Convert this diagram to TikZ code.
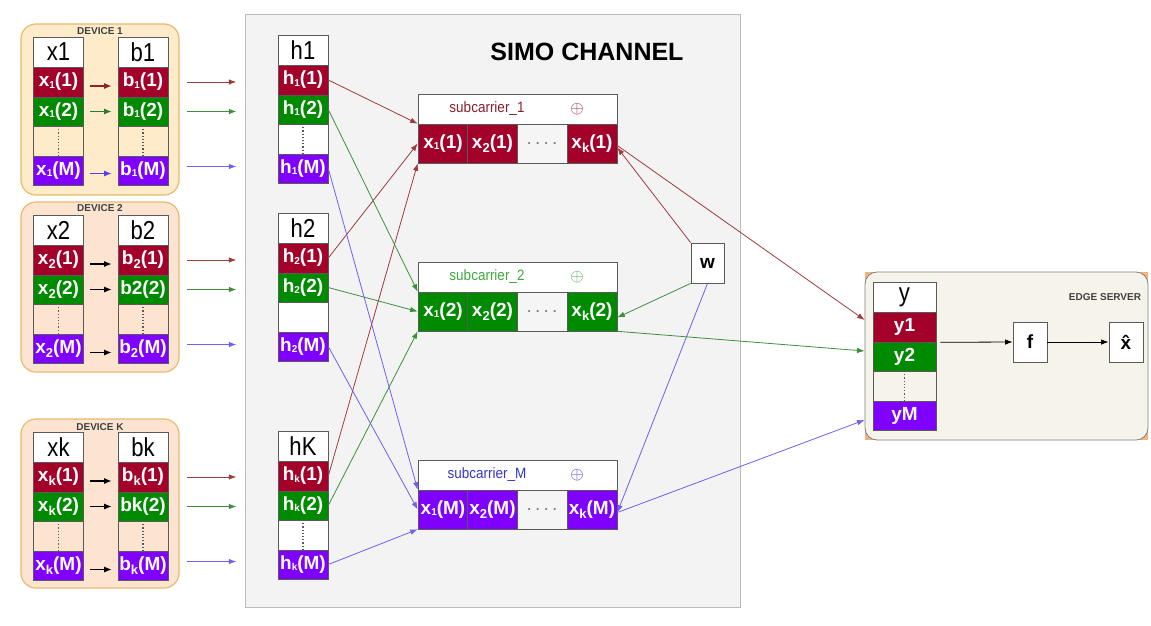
\documentclass[tikz,border=0pt]{standalone}
\usepackage{fontspec}
\setmainfont{Liberation Sans}
\usetikzlibrary{arrows.meta}

\definecolor{cred}{HTML}{A3002A}
\definecolor{cgreen}{HTML}{008A00}
\definecolor{cpurple}{HTML}{7F00FF}
\definecolor{lred}{HTML}{9E3B3B}
\definecolor{lgreen}{HTML}{3E8E3E}
\definecolor{lpurple}{HTML}{7060F0}
\definecolor{ared}{HTML}{8E2323}
\definecolor{agreen}{HTML}{2D7A2D}
\definecolor{apurple}{HTML}{5B3DF5}
\definecolor{devA}{HTML}{FDEBC9}
\definecolor{devB}{HTML}{FCE4D0}
\definecolor{devline}{HTML}{E9B96E}
\definecolor{chanfill}{HTML}{F3F3F3}
\definecolor{chanline}{HTML}{BBBBBB}
\definecolor{srvfill}{HTML}{F6F3EA}
\definecolor{srvcorner}{HTML}{F2B27E}
\definecolor{cellline}{HTML}{5A5A5A}
\definecolor{titlegray}{HTML}{404040}
\definecolor{sred}{HTML}{8A1F2A}
\definecolor{sgreen}{HTML}{3DAA3D}
\definecolor{sblue}{HTML}{3535CC}

% subscripts: small (index 1) and large (other indices)
\newcommand\subs[1]{\raisebox{-0.08em}{\fontsize{10}{10}\selectfont #1}}
\newcommand\subl[1]{\raisebox{-0.22em}{\fontsize{13}{13}\selectfont #1}}
% tall, slightly condensed header lettering
\newcommand\hdrtext[1]{\scalebox{0.85}[1]{#1}}
\def\cellw{50pt}

% one stacked column: header, three coloured rows and a filler row
\newcommand\stackcol[8]{%
  \node[hdr] (#1h) at (#2,#3+15) {\hdrtext{#4}};
  \node[rcell] (#1a) at (#2,#3+45) {#5};
  \node[gcell] (#1b) at (#2,#3+74.5) {#6};
  \node[#8] (#1c) at (#2,#3+104) {};
  \node[pcell] (#1d) at (#2,#3+133.5) {#7};
}

% one subcarrier block
\newcommand\subrow[6]{%
  \node[shdr] (#1h) at (517.5,#2+15) {};
  \node[slabel, text=#3] (#1l) at (487,#2+15) {\scalebox{0.9}[1]{#4}};
  \node[slabel, text=#3, font=\fontsize{17}{17}\selectfont] (#1o) at (577,#2+15) {$\oplus$};
  \node[#5, scell] (#1a) at (443,#2+49.5) {x\subs{1}(#6)};
  \node[#5, scell] (#1b) at (492.5,#2+49.5) {x\subl{2}(#6)};
  \node[scell, fill=white!96!black, text=gray] (#1c) at (542,#2+49.5) {\normalfont.\,.\,.\,.};
  \node[#5, scell] (#1k) at (592,#2+49.5) {x\subl{k}(#6)};
}

\begin{document}
\begin{tikzpicture}[x=1pt,y=-1pt,
  cell/.style={draw=cellline, line width=0.6pt, minimum width=\cellw,
    minimum height=30pt, inner sep=0pt, text=white,
    font=\fontsize{19}{19}\selectfont\bfseries},
  hdr/.style={cell, fill=white, text=black, font=\fontsize{26}{26}\selectfont},
  rcell/.style={cell, fill=cred},
  gcell/.style={cell, fill=cgreen, minimum height=29pt},
  pcell/.style={cell, fill=cpurple, minimum height=29pt},
  dcell/.style={cell, path picture={\draw[dotted, line width=1.2pt]
      (path picture bounding box.north) -- (path picture bounding box.south);}},
  wdcell/.style={dcell, fill=white},
  wcell/.style={cell, fill=white},
  shdr/.style={draw=cellline, line width=0.6pt, fill=white,
    minimum width=199pt, minimum height=30pt, inner sep=0pt},
  slabel/.style={inner sep=0pt, font=\fontsize{15}{15}\selectfont},
  scell/.style={cell, minimum height=39pt},
  devbox/.style={draw=devline, line width=1.2pt, rounded corners=15pt, inner sep=0pt},
  devtitle/.style={inner sep=0pt, text=titlegray, font=\fontsize{10}{10}\selectfont\bfseries},
  box/.style={draw=cellline, line width=0.8pt, fill=white, inner sep=0pt,
    minimum width=34pt, minimum height=40pt, font=\fontsize{19}{19}\selectfont\bfseries},
  link/.style={line width=0.8pt, -{Latex[length=7.5pt,width=5.5pt]}},
  darr/.style={line width=1.3pt, -{Latex[length=7.5pt,width=6pt]}},
]
\useasboundingbox (0,0) rectangle (1151,625);

% ---------- devices ----------
\node[devbox, fill=devA, minimum width=158pt, minimum height=171pt] (dev1) at (100,109.5) {};
\node[devbox, fill=devB, minimum width=158pt, minimum height=170pt] (dev2) at (100,287) {};
\node[devbox, fill=devB, minimum width=158pt, minimum height=169pt] (devK) at (100,503.5) {};
\node[devtitle] (dev1t) at (100,31) {DEVICE 1};
\node[devtitle] (dev2t) at (100,208) {DEVICE 2};
\node[devtitle] (devKt) at (100,427) {DEVICE K};

\stackcol{xa}{58.5}{37}{x1}{x\subs{1}(1)}{x\subs{1}(2)}{x\subs{1}(M)}{dcell}
\stackcol{ba}{143}{37}{b1}{b\subs{1}(1)}{b\subs{1}(2)}{b\subs{1}(M)}{dcell}
\stackcol{xb}{58.5}{215}{x2}{x\subl{2}(1)}{x\subl{2}(2)}{x\subl{2}(M)}{dcell}
\stackcol{bb}{143}{215}{b2}{b\subl{2}(1)}{b2(2)}{b\subl{2}(M)}{dcell}
\stackcol{xk}{58.5}{432}{xk}{x\subl{k}(1)}{x\subl{k}(2)}{x\subl{k}(M)}{dcell}
\stackcol{bk}{143}{432}{bk}{b\subl{k}(1)}{bk(2)}{b\subl{k}(M)}{dcell}

% inside each device
\draw[darr, ared]    ([xshift=6pt,yshift=-4pt]xaa.east) -- ([xshift=-6pt,yshift=-4pt]baa.west);
\draw[darr, agreen]  ([xshift=6pt]xab.east) -- ([xshift=-6pt]bab.west);
\draw[darr, apurple] ([xshift=6pt,yshift=-3pt]xad.east) -- ([xshift=-6pt,yshift=-3pt]bad.west);
\foreach \d in {b,k}{
  \draw[darr, black] ([xshift=6pt,yshift=-4pt]x\d a.east) -- ([xshift=-6pt,yshift=-4pt]b\d a.west);
  \draw[darr, black] ([xshift=6pt]x\d b.east) -- ([xshift=-6pt]b\d b.west);
  \draw[darr, black] ([xshift=6pt,yshift=-4pt]x\d d.east) -- ([xshift=-6pt,yshift=-4pt]b\d d.west);
}

% device outputs
\foreach \d in {a,b,k}{
  \draw[link, lred]    ([xshift=19pt]b\d a.east) -- ([xshift=68pt]b\d a.east);
  \draw[link, lgreen]  ([xshift=19pt]b\d b.east) -- ([xshift=68pt]b\d b.east);
  \draw[link, lpurple] ([xshift=19pt,yshift=4pt]b\d d.east) -- ([xshift=68pt,yshift=4pt]b\d d.east);
}

% ---------- SIMO channel ----------
\node[draw=chanline, fill=chanfill, line width=0.8pt, inner sep=0pt,
  minimum width=495pt, minimum height=593pt] (chan) at (492.5,310.5) {};
\node[inner sep=0pt, font=\fontsize{25}{25}\selectfont\bfseries] (chant) at (587,52) {SIMO CHANNEL};

\stackcol{ha}{303}{35}{h1}{h\subs{1}(1)}{h\subs{1}(2)}{h\subs{1}(M)}{wdcell}
\stackcol{hb}{303}{213}{h2}{h\subs{2}(1)}{h\subs{2}(2)}{h\subs{2}(M)}{wcell}
\stackcol{hk}{303}{431}{hK}{h\subs{k}(1)}{h\subs{k}(2)}{h\subs{k}(M)}{wdcell}

\subrow{sa}{94}{sred}{subcarrier\_1}{rcell}{1}
\subrow{sb}{262}{sgreen}{subcarrier\_2}{gcell}{2}
\subrow{sm}{460}{sblue}{subcarrier\_M}{pcell}{M}

\node[box, minimum width=33pt] (w) at (707.5,263) {w};

% channel gains onto subcarriers
\draw[link, lred]    (haa.east) -- (saa.north west);
\draw[link, lred]    (hba.east) -- (saa.west);
\draw[link, lred]    (hka.east) -- (saa.south west);
\draw[link, lgreen]  (hab.east) -- (sba.north west);
\draw[link, lgreen]  (hbb.east) -- (sba.west);
\draw[link, lgreen]  (hkb.east) -- (sba.south west);
\draw[link, lpurple] (had.east) -- (sma.north west);
\draw[link, lpurple] (hbd.east) -- (sma.west);
\draw[link, lpurple] (hkd.east) -- (sma.south west);

% noise
\draw[link, lred]    (w.north west) -- ([yshift=-4pt]sak.east);
\draw[link, lgreen]  (w.south west) -- ([yshift=-6pt]sbk.east);
\draw[link, lpurple] (w.south) -- ([yshift=-3pt]smk.east);

% ---------- edge server ----------
\node[fill=srvcorner, inner sep=0pt, minimum width=283pt, minimum height=168pt] (srvbg) at (1006.5,356) {};
\node[draw=gray, fill=srvfill, line width=0.8pt, rounded corners=12pt, inner sep=0pt,
  minimum width=283pt, minimum height=168pt] (srv) at (1006.5,356) {};
\node[devtitle] (srvt) at (1105,297) {EDGE SERVER};

\begin{scope}
\def\cellw{63pt}
\stackcol{y}{904.5}{282}{y}{y1}{y2}{yM}{dcell}
\end{scope}

\node[box] (f) at (1030,342) {f};
\node[box] (xh) at (1126,342) {\^{x}};

\draw[link, black] ([xshift=4pt]ya.south east) -- (f.west);
\draw[link, black] (f.east) -- (xh.west);

% subcarriers to the server
\draw[link, lred]    ([yshift=-2pt]sak.east) -- ([yshift=36pt]srv.west);
\draw[link, lgreen]  (sbk.south east) -- ([yshift=5pt]srv.west);
\draw[link, lpurple] ([yshift=-3pt]smk.east) -- ([yshift=-64pt]srv.west);

\end{tikzpicture}
\end{document}
